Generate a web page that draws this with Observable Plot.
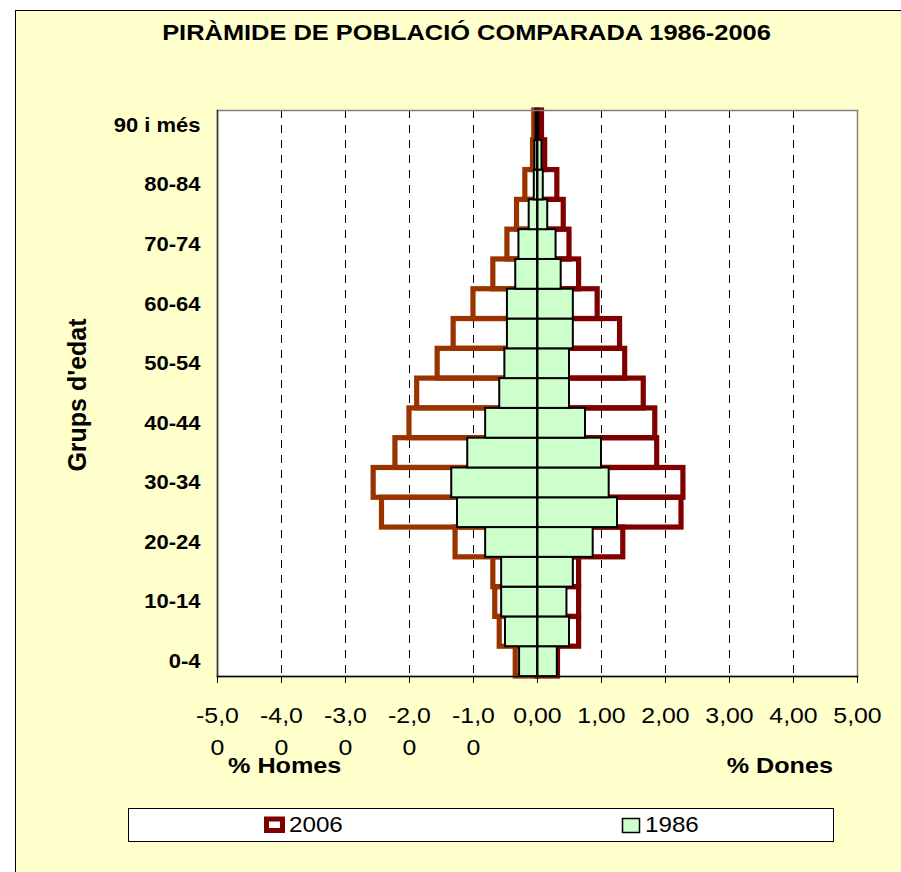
<!DOCTYPE html>
<html>
<head>
<meta charset="utf-8">
<script src="https://cdn.jsdelivr.net/npm/d3@7"></script>
<script src="https://cdn.jsdelivr.net/npm/@observablehq/plot@0.6"></script>
<style>
  html, body { margin: 0; padding: 0; background: #ffffff; }
  #chart { width: 901px; height: 872px; overflow: hidden; }
</style>
</head>
<body>
<div id="chart"></div>
<script>
// Age groups, bottom to top
const ages = ["0-4","5-9","10-14","15-19","20-24","25-29","30-34","35-39","40-44","45-49",
              "50-54","55-59","60-64","65-69","70-74","75-79","80-84","85-89","90 i més"];
// % of population (men negative)
const homes2006 = [-0.34,-0.59,-0.66,-0.69,-1.28,-2.43,-2.56,-2.22,-2.00,-1.88,
                   -1.56,-1.31,-1.00,-0.69,-0.47,-0.32,-0.19,-0.07,-0.05];
const dones2006 = [0.32,0.65,0.65,0.65,1.34,2.25,2.28,1.87,1.84,1.66,
                   1.37,1.29,0.94,0.65,0.50,0.41,0.31,0.12,0.07];
const homes1986 = [-0.28,-0.50,-0.56,-0.56,-0.81,-1.25,-1.34,-1.09,-0.81,-0.59,
                   -0.51,-0.47,-0.47,-0.34,-0.29,-0.13,-0.05,-0.04,-0.02];
const dones1986 = [0.31,0.50,0.46,0.56,0.87,1.25,1.12,1.00,0.75,0.50,
                   0.50,0.56,0.56,0.37,0.29,0.16,0.09,0.07,0.02];
const yLabels = ["0-4","10-14","20-24","30-34","40-44","50-54","60-64","70-74","80-84","90 i més"];
const xTicks = [-5,-4,-3,-2,-1,0,1,2,3,4,5];
const gridTicks = [-4,-3,-2,-1,1,2,3,4];

const title = "PIRÀMIDE DE POBLACIÓ COMPARADA 1986-2006";
const yTitle = "Grups d'edat";
const leftTitle = "% Homes";
const rightTitle = "% Dones";
const legendItems = ["2006", "1986"];

const rows = ages.map((a, i) => ({age: a, h06: homes2006[i], d06: dones2006[i], h86: homes1986[i], d86: dones1986[i]}));

const fmtTick = v => {
  const s = v.toFixed(2).replace(".", ",");
  return v < 0 ? s.slice(0, s.length - 1) + "\n" + s.slice(-1) : s;
};

const FONT = "'Liberation Sans', Arial, Helvetica, sans-serif";

const svg = Plot.plot({
  width: 901,
  height: 872,
  marginLeft: 217,
  marginRight: 44,
  marginTop: 110,
  marginBottom: 196,
  style: `background: transparent; font-family: ${FONT}; color: black;`,
  x: {domain: [-5, 5]},
  y: {domain: ages.slice().reverse(), padding: 0, round: false},
  marks: [
    Plot.frame({fill: "white", stroke: "none"}),
    Plot.ruleX(gridTicks, {stroke: "black", strokeWidth: 1, strokeDasharray: "8,7"}),
    Plot.barX(rows, {y: "age", x1: d => 0, x2: "h06", fill: "none", stroke: "#993300", strokeWidth: 5.2}),
    Plot.barX(rows, {y: "age", x1: d => 0, x2: "d06", fill: "none", stroke: "#800000", strokeWidth: 5.2}),
    Plot.barX(rows, {y: "age", x1: d => 0, x2: "h86", fill: "#CCFFCC", stroke: "black", strokeWidth: 2}),
    Plot.barX(rows, {y: "age", x1: d => 0, x2: "d86", fill: "#CCFFCC", stroke: "black", strokeWidth: 2}),
    Plot.ruleX([0], {stroke: "black", strokeWidth: 2}),
    Plot.frame({stroke: "#808080", strokeWidth: 1.5}),
    Plot.frame({anchor: "left", stroke: "#333333", strokeWidth: 1.5}),
    Plot.frame({anchor: "bottom", stroke: "black", strokeWidth: 1.5}),
    Plot.axisX(xTicks, {
      tickFormat: fmtTick, tickSize: 7, tickPadding: 17, fontSize: 22,
      lineHeight: 1.45, label: null
    }),
    Plot.axisY(yLabels, {
      tickSize: 0, tickPadding: 17, fontSize: 20, fontWeight: "bold", label: null
    })
  ]
});

const s = d3.select(svg);

// Horizontal stretch of axis texts (the reference glyphs are wide)
function stretch(sel, k) {
  sel.each(function() {
    const t = this.getAttribute("transform") || "";
    this.setAttribute("transform", (t + ` scale(${k},1)`).trim());
  });
}
stretch(s.selectAll("g[aria-label='x-axis tick label'] text"), 1.13);
stretch(s.selectAll("g[aria-label='y-axis tick label'] text"), 1.1);

// outer chart area
s.insert("rect", ":first-child")
  .attr("x", 15.5).attr("y", 10.5)
  .attr("width", 920).attr("height", 900)
  .attr("fill", "#FFFFCC").attr("stroke", "black").attr("stroke-width", 1);

function addText(parent, str, x, y, opts) {
  const k = opts.k || 1;
  const t = parent.append("text")
    .attr("transform", `translate(${x},${y}) scale(${k},1)` + (opts.rotate ? ` rotate(${opts.rotate})` : ""))
    .attr("text-anchor", opts.anchor || "start")
    .attr("font-family", FONT)
    .attr("font-size", opts.size)
    .attr("font-weight", opts.bold ? "bold" : "normal")
    .attr("fill", "black")
    .text(str);
  return t;
}

// Title
addText(s, title, 466.5, 40, {anchor: "middle", size: 22.3, bold: true, k: 1.14});
// y-axis title
addText(s, yTitle, 86, 395, {anchor: "middle", size: 25, bold: true, k: 1.0, rotate: -90});
// % Homes / % Dones
addText(s, leftTitle, 228, 773, {size: 22.3, bold: true, k: 1.13});
addText(s, rightTitle, 833, 773, {anchor: "end", size: 22.3, bold: true, k: 1.13});

// Legend
const lg = s.append("g");
lg.append("rect")
  .attr("x", 128.5).attr("y", 808.5).attr("width", 705).attr("height", 33)
  .attr("fill", "white").attr("stroke", "black").attr("stroke-width", 1);
lg.append("rect")
  .attr("x", 266.5).attr("y", 819).attr("width", 16).attr("height", 11.5)
  .attr("fill", "white").attr("stroke", "#800000").attr("stroke-width", 5);
addText(lg, legendItems[0], 289, 832, {size: 22, k: 1.1});
lg.append("rect")
  .attr("x", 622.5).attr("y", 818.5).attr("width", 17).attr("height", 14)
  .attr("fill", "#CCFFCC").attr("stroke", "black").attr("stroke-width", 1.5);
addText(lg, legendItems[1], 645, 832, {size: 22, k: 1.1});

document.getElementById("chart").appendChild(svg);
</script>
</body>
</html>
